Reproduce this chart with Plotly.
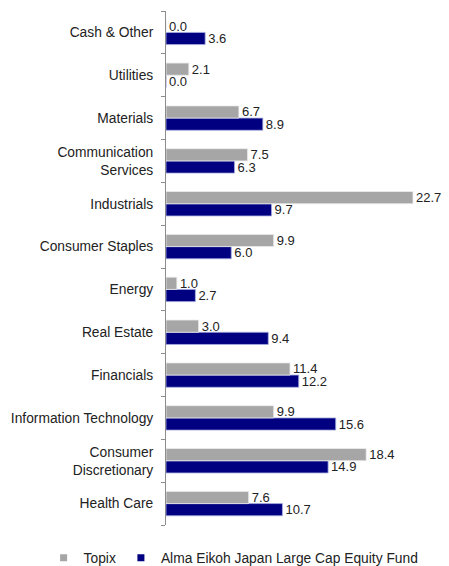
import plotly.graph_objects as go

categories = ["Health Care", "Consumer<br>Discretionary", "Information Technology", "Financials",
              "Real Estate", "Energy", "Consumer Staples", "Industrials",
              "Communication<br>Services", "Materials", "Utilities", "Cash & Other"]
topix = [7.6, 18.4, 9.9, 11.4, 3.0, 1.0, 9.9, 22.7, 7.5, 6.7, 2.1, 0.0]
fund = [10.7, 14.9, 15.6, 12.2, 9.4, 2.7, 6.0, 9.7, 6.3, 8.9, 0.0, 3.6]
series_names = ["Topix", "Alma Eikoh Japan Large Cap Equity Fund"]

font = "Liberation Sans, Arial, sans-serif"
GRAY = "#A6A6A6"
NAVY = "#000080"

fig = go.Figure()
fig.add_trace(go.Bar(
    y=categories, x=fund, orientation="h", name=series_names[1], showlegend=False,
    marker=dict(color=NAVY, line=dict(color="#a8b0e0", width=0.8)),
    text=[f"{v:.1f}" for v in fund], textposition="outside", cliponaxis=False,
    constraintext="none",
    textfont=dict(family=font, size=13, color="#222222"),
))
fig.add_trace(go.Bar(
    y=categories, x=topix, orientation="h", name=series_names[0], showlegend=False,
    marker=dict(color=GRAY, line=dict(color="#ececec", width=0.8)),
    text=[f"{v:.1f}" for v in topix], textposition="outside", cliponaxis=False,
    constraintext="none",
    textfont=dict(family=font, size=13, color="#222222"),
))
# legend entries with small square swatches
for nm, col in zip(series_names, [GRAY, NAVY]):
    fig.add_trace(go.Scatter(
        x=[None], y=[None], mode="markers", name=nm,
        marker=dict(symbol="square", size=7, color=col), showlegend=True,
    ))

# the page puts the figure 8px in from the top-left corner
fig.update_layout(
    width=441, height=574,
    margin=dict(l=156, r=11, t=3, b=57),
    barmode="group", bargap=0.43, bargroupgap=0,
    plot_bgcolor="white", paper_bgcolor="white",
    font=dict(family=font, size=13.5, color="#222222"),
    showlegend=True,
    legend=dict(orientation="h", x=-0.45, xanchor="left", y=-0.064, yanchor="middle",
                font=dict(family=font, size=13.8, color="#222222"),
                itemwidth=30, tracegroupgap=0, traceorder="normal",
                bgcolor="rgba(0,0,0,0)"),
    xaxis=dict(range=[0, 25], visible=False, showgrid=False, zeroline=False, fixedrange=True),
    yaxis=dict(showline=True, linecolor="#8c8c8c", linewidth=1, ticks="outside",
               tickson="boundaries", ticklen=4, tickcolor="#8c8c8c", showgrid=False,
               tickfont=dict(family=font, size=13.8, color="#222222"), ticklabelstandoff=9),
)

fig.write_html("out.html")
